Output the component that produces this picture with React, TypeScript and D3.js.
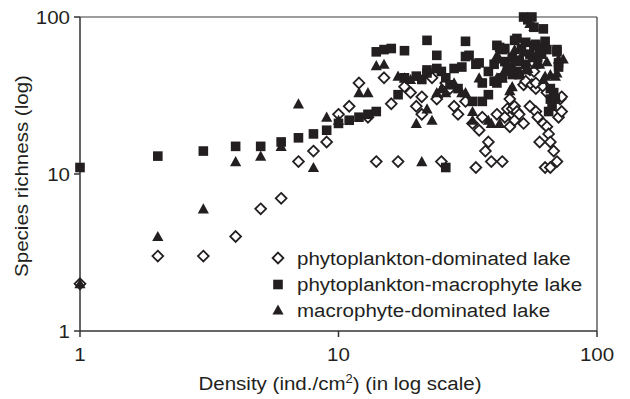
import React from "react";
import * as d3 from "d3";

const xTicks = [1, 10, 100];
const yTicks = [1, 10, 100];

const seriesNames = [
  "phytoplankton-dominated lake",
  "phytoplankton-macrophyte lake",
  "macrophyte-dominated lake",
];

// phytoplankton-dominated lake (open diamonds)
const phytoDominated: [number, number][] = [
  [1, 2], [2, 3], [3, 3], [4, 4], [5, 6], [6, 7], [7, 12], [8, 14], [9, 16], [10, 24],
  [11, 27], [12, 38], [13, 23], [14, 12], [15, 41], [16, 28], [17, 12], [18, 36], [19, 33],
  [20, 27], [21, 24], [21, 31], [23, 41], [24, 30], [25, 12], [25, 33], [26, 36], [26, 38],
  [27, 35], [28, 27], [29, 24], [31, 29], [33, 21], [34, 11], [35, 19], [36, 23], [37, 14],
  [38, 16], [39, 12], [41, 24], [43, 12], [44, 23], [45, 26], [46, 30], [46, 20], [47, 26],
  [48, 22], [48, 27], [49, 25], [50, 24], [52, 21], [52, 37], [53, 39], [55, 27], [55, 46],
  [56, 37], [57, 45], [58, 25], [58, 35], [58, 38], [59, 23], [60, 16], [62, 21], [62, 36],
  [63, 11], [64, 20], [64, 33], [65, 18], [66, 16], [66, 11], [68, 14], [70, 12], [71, 23],
  [72, 30], [73, 25], [73, 31],
];

// phytoplankton-macrophyte lake (filled squares)
const phytoMacrophyte: [number, number][] = [
  [1, 11], [2, 13], [3, 14], [4, 15], [5, 15], [6, 16], [7, 17], [8, 18], [9, 19], [10, 21],
  [11, 22], [12, 23], [13, 24], [14, 25], [14, 60], [15, 62], [16, 63], [17, 32], [18, 61],
  [18, 41], [20, 42], [21, 40], [22, 46], [22, 71], [22, 44], [24, 57], [24, 47], [25, 45],
  [26, 41], [26, 11], [27, 37], [28, 47], [29, 35], [30, 48], [31, 70], [31, 56], [32, 57],
  [33, 29], [34, 50], [35, 51], [36, 29], [36, 38], [38, 32], [38, 45], [40, 39], [40, 50],
  [41, 66], [41, 38], [42, 64], [43, 41], [43, 62], [44, 52], [44, 63], [45, 48], [47, 43],
  [47, 55], [48, 71], [49, 73], [49, 45], [50, 43], [50, 53], [51, 63], [52, 100], [53, 69],
  [53, 50], [54, 96], [55, 58], [56, 100], [57, 86], [57, 66], [58, 67], [59, 55], [60, 64],
  [61, 58], [62, 84], [63, 70], [64, 62], [65, 25], [66, 30], [66, 35], [67, 27], [68, 33],
  [69, 30], [70, 60], [70, 62], [71, 51], [71, 48],
];

// macrophyte-dominated lake (filled triangles)
const macrophyteDominated: [number, number][] = [
  [1, 2], [2, 4], [3, 6], [4, 12], [5, 13], [6, 15], [7, 28], [8, 11], [9, 23], [10, 22],
  [12, 33], [13, 33], [14, 49], [15, 50], [17, 42], [18, 41], [19, 40], [20, 21], [21, 12],
  [22, 26], [23, 22], [24, 33], [25, 35], [26, 33], [28, 38], [30, 33], [31, 33], [33, 22],
  [33, 25], [35, 41], [38, 22], [39, 21], [41, 41], [41, 57], [42, 21], [42, 54], [43, 41],
  [44, 46], [45, 45], [46, 34], [47, 36], [47, 49], [48, 62], [49, 52], [50, 43], [52, 60],
  [53, 46], [54, 47], [55, 91], [56, 55], [57, 87], [58, 50], [59, 60], [60, 50], [62, 40],
  [63, 42], [64, 52], [66, 43], [69, 42], [70, 44], [71, 54], [74, 54],
];

const W = 630;
const H = 399;
const M = { left: 80, right: 597, top: 17, bottom: 331 };
const INK = "#231f20";
const FONT = "'Liberation Sans', Arial, sans-serif";
const FS = 19;
const STRETCH = 1.08;

const x = d3.scaleLog().domain([1, 100]).range([M.left, M.right]);
const y = d3.scaleLog().domain([1, 100]).range([M.bottom, M.top]);

const diamondPath = (cx: number, cy: number, r = 5.4) =>
  `M${cx},${cy - r}L${cx + r},${cy}L${cx},${cy + r}L${cx - r},${cy}Z`;
const trianglePath = (cx: number, cy: number) =>
  `M${cx},${cy - 5.6}L${cx + 5.6},${cy + 4.6}L${cx - 5.6},${cy + 4.6}Z`;

function Square({ cx, cy }: { cx: number; cy: number }) {
  const s = 9.6;
  return <rect x={cx - s / 2} y={cy - s / 2} width={s} height={s} fill={INK} />;
}
function Diamond({ cx, cy }: { cx: number; cy: number }) {
  return <path d={diamondPath(cx, cy)} fill="#fff" stroke={INK} strokeWidth={1.8} />;
}
function Triangle({ cx, cy }: { cx: number; cy: number }) {
  return <path d={trianglePath(cx, cy)} fill={INK} />;
}

function T({
  x: tx,
  y: ty,
  anchor = "start",
  rotate = 0,
  children,
}: {
  x: number;
  y: number;
  anchor?: string;
  rotate?: number;
  children: React.ReactNode;
}) {
  return (
    <text
      transform={`translate(${tx},${ty}) rotate(${rotate}) scale(${STRETCH},1)`}
      textAnchor={anchor}
      fontFamily={FONT}
      fontSize={FS}
      fill={INK}
    >
      {children}
    </text>
  );
}

export default function App() {
  const legendX = 278;
  const legendY = [258, 284.5, 310];
  return (
    <svg width={W} height={H} style={{ position: "absolute", left: 0, top: 0, background: "#fff" }}>
      <rect x={0} y={0} width={W} height={H} fill="#fff" />
      {/* frame */}
      <line x1={M.left} x2={M.right} y1={M.top} y2={M.top} stroke="#3a3a3a" strokeWidth={1.2} />
      <line x1={M.right} x2={M.right} y1={M.top} y2={M.bottom} stroke="#3a3a3a" strokeWidth={1.2} />
      <line x1={M.left} x2={M.left} y1={M.top} y2={M.bottom} stroke="#333" strokeWidth={1.5} />
      <line x1={M.left} x2={M.right} y1={M.bottom} y2={M.bottom} stroke="#333" strokeWidth={1.5} />
      {/* y ticks */}
      {yTicks.map((t) => (
        <g key={"y" + t}>
          <line x1={M.left - 6} x2={M.left} y1={y(t)} y2={y(t)} stroke="#333" strokeWidth={1.5} />
          <T x={70} y={y(t) + 6.8} anchor="end">
            {String(t)}
          </T>
        </g>
      ))}
      {/* x ticks */}
      {xTicks.map((t) => (
        <g key={"x" + t}>
          <line x1={x(t)} x2={x(t)} y1={M.bottom} y2={M.bottom + 6} stroke="#333" strokeWidth={1.5} />
          <T x={x(t)} y={360.5} anchor="middle">
            {String(t)}
          </T>
        </g>
      ))}
      {/* axis titles */}
      <T x={340} y={390} anchor="middle">
        <tspan>Density (ind./cm</tspan>
        <tspan fontSize={12} dy={-7}>2</tspan>
        <tspan dy={7}>) (in log scale)</tspan>
      </T>
      <T x={28} y={176} anchor="middle" rotate={-90}>
        Species richness (log)
      </T>
      {/* data */}
      <g>
        {phytoDominated.map(([a, b], i) => (
          <Diamond key={"d" + i} cx={x(a)} cy={y(b)} />
        ))}
        {phytoMacrophyte.map(([a, b], i) => (
          <Square key={"s" + i} cx={x(a)} cy={y(b)} />
        ))}
        {macrophyteDominated.map(([a, b], i) => (
          <Triangle key={"t" + i} cx={x(a)} cy={y(b)} />
        ))}
      </g>
      {/* legend */}
      <Diamond cx={legendX} cy={legendY[0]} />
      <Square cx={legendX} cy={legendY[1]} />
      <Triangle cx={legendX} cy={legendY[2]} />
      {seriesNames.map((n, i) => (
        <T key={n} x={297} y={legendY[i] + 6.5}>
          {n}
        </T>
      ))}
    </svg>
  );
}
